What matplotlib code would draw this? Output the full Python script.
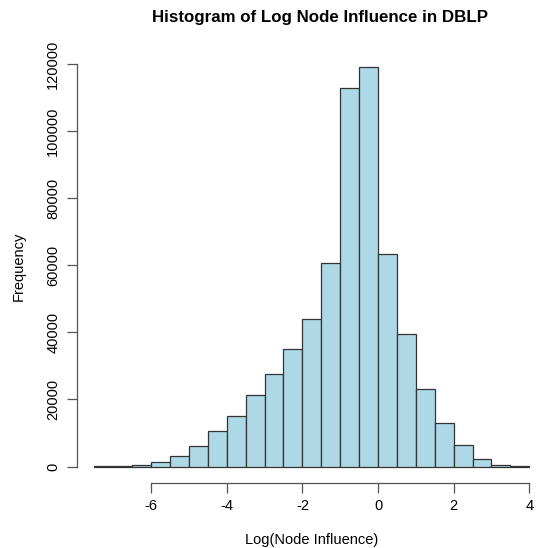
import matplotlib
matplotlib.use("Agg")
import matplotlib.pyplot as plt

plt.rcParams['font.family'] = ['Liberation Sans', 'DejaVu Sans']
plt.rcParams['axes.unicode_minus'] = False

# bin breaks (width 0.5) and frequencies
breaks = [-7.5, -7.0, -6.5, -6.0, -5.5, -5.0, -4.5, -4.0, -3.5, -3.0, -2.5,
          -2.0, -1.5, -1.0, -0.5, 0.0, 0.5, 1.0, 1.5, 2.0, 2.5, 3.0, 3.5, 4.0]
counts = [30, 150, 500, 1300, 3100, 6100, 10500, 15000, 21300, 27500, 35200,
          43900, 60800, 112800, 119300, 63300, 39500, 23000, 12900, 6300, 2200, 400, 60]

x_ticks = [-6, -4, -2, 0, 2, 4]
y_ticks = [0, 20000, 40000, 60000, 80000, 100000, 120000]

fig = plt.figure(figsize=(5.36, 5.48), dpi=100)
# R-style plot region (right side runs off the image as in the original)
ax = fig.add_axes([77 / 536, 1 - 482.5 / 548, 469.7 / 536, 431.8 / 548])

ax.hist(breaks[:-1], bins=breaks, weights=counts, color='lightblue',
        edgecolor='#333333', linewidth=0.9)

# R adds 4% padding on each side
xr = breaks[-1] - breaks[0]
ax.set_xlim(breaks[0] - 0.04 * xr, breaks[-1] + 0.04 * xr)
ymax = max(counts)
ax.set_ylim(-0.04 * ymax, ymax * 1.04)

for s in ['top', 'right']:
    ax.spines[s].set_visible(False)
ax.spines['left'].set_bounds(y_ticks[0], y_ticks[-1])
ax.spines['bottom'].set_bounds(x_ticks[0], x_ticks[-1])
for s in ['left', 'bottom']:
    ax.spines[s].set_color('#555555')
    ax.spines[s].set_linewidth(0.9)

ax.set_xticks(x_ticks)
ax.set_yticks(y_ticks)
ax.set_yticklabels([str(v) for v in y_ticks], rotation=90, va='center')
ax.tick_params(direction='out', length=7, width=0.9, color='#555555',
               labelsize=10.5, pad=5)

ax.set_xlabel('Log(Node Influence)', fontsize=10.5, labelpad=14)
ax.set_ylabel('Frequency', fontsize=10.5, labelpad=15)
ax.set_title('Histogram of Log Node Influence in DBLP', fontsize=12.2,
             fontweight='bold', pad=21, x=0.517)

fig.savefig('out.png', dpi=100)
